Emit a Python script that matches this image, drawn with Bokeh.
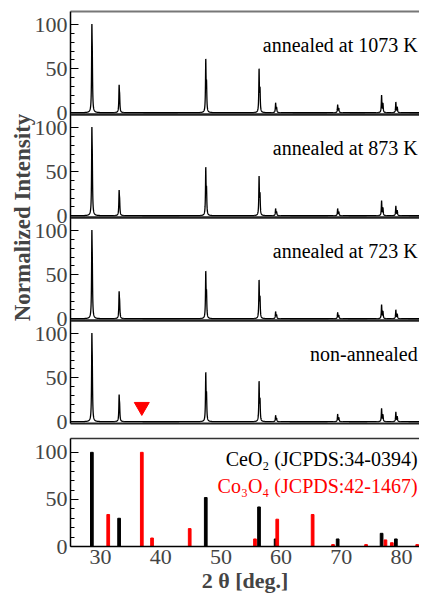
import numpy as np
from bokeh.plotting import figure
from bokeh.models import Label, Span, LinearAxis, FixedTicker, Range1d, ColumnDataSource
from bokeh.layouts import column
from bokeh.embed import file_html
from bokeh.resources import INLINE

# ---------------- data ----------------
# CeO2 reflections seen in the measured patterns (2 theta, deg.)
peak_pos = [28.55, 33.08, 47.48, 56.34, 59.09, 69.40, 76.70, 79.07]
# peak heights (normalized intensity) of each measured pattern
h_1073 = [100, 31.5, 61, 50, 11, 9, 20, 12]
h_873 = [100, 29, 55, 45, 8, 8, 17, 11]
h_723 = [100, 31, 54, 44, 8, 7, 16, 10]
h_non = [100, 30.5, 56, 46, 7, 8.5, 15, 11]
panel_heights = [h_non, h_723, h_873, h_1073]          # bottom -> top
panel_names = ["non-annealed", "annealed at 723 K", "annealed at 873 K", "annealed at 1073 K"]

# reference patterns
ceo2_pos = [28.55, 33.08, 47.48, 56.33, 59.09, 69.40, 76.70, 79.07]
ceo2_int = [100, 30, 52, 42, 8, 8, 14, 8]
co3o4_pos = [31.27, 36.85, 38.55, 44.81, 55.66, 59.36, 65.24, 68.63, 74.12, 77.34, 78.40, 82.62]
co3o4_int = [34, 100, 9, 19, 8, 29, 34, 2, 2, 7, 4, 2]

# Co3O4 (311) marker in the non-annealed pattern
marker_x = [36.85]
marker_y = [17]

ytick_vals = [0, 50, 100]
xtick_vals = [30, 40, 50, 60, 70, 80]

# ---------------- peak-profile rendering ----------------
HWHM = 0.055
KA_RATIO = 1.00251  # Cu K-alpha2 / K-alpha1 wavelength ratio


def lor(x, c):
    return 1.0 / (1.0 + ((x - c) / HWHM) ** 2)


def ka2_pos(c):
    return 2 * np.degrees(np.arcsin(np.sin(np.radians(c / 2)) * KA_RATIO))


def pattern(pos, heights):
    grid = [np.arange(25.0, 83.0, 0.05)]
    for c in pos:
        grid.append(np.arange(c - 0.9, c + 0.9, 0.004))
        grid.append(np.array([c]))
    x = np.unique(np.concatenate(grid))
    y = np.zeros_like(x)
    for c, h in zip(pos, heights):
        c2 = ka2_pos(c)
        amp = h / (1 + 0.5 * lor(c, c2))
        y += amp * (lor(x, c) + 0.5 * lor(x, c2))
    return x, y


FONT = "Liberation Serif, Times New Roman, serif"
S = 117        # vertical span of one stacked panel (in intensity units)
LO = -2
XR = Range1d(25.0, 83.0)
W = 419
TXT_X = 82.7

# ---------------- stacked measured patterns ----------------
p = figure(width=W, height=435, x_range=XR, y_range=Range1d(LO, 4 * S + LO),
           output_backend="svg", toolbar_location=None,
           min_border_left=70, min_border_right=0, min_border_top=11, min_border_bottom=12)
p.outline_line_color = None
p.grid.visible = False

for k, hs in enumerate(panel_heights):
    x, y = pattern(peak_pos, hs)
    src = ColumnDataSource(dict(x=x, y=y + k * S))
    p.line("x", "y", source=src, line_color="black", line_width=1.3)
    p.add_layout(Label(x=TXT_X, y=k * S + 77, text=panel_names[k], text_align="right",
                       text_baseline="middle", text_font=FONT, text_font_size="20px",
                       text_color="black"))
for k in range(3):
    p.add_layout(Span(location=k * S + S + LO, dimension="width",
                      line_color="#222222", line_width=2.5))

msrc = ColumnDataSource(dict(x=marker_x, y=marker_y))
p.scatter("x", "y", source=msrc, marker="inverted_triangle", size=15,
          fill_color="red", line_color="red")

yt = [k * S + v for k in range(4) for v in ytick_vals]
ymt = [k * S + v for k in range(4) for v in range(10, 100, 10) if v != 50]
yax = p.yaxis[0]
yax.ticker = FixedTicker(ticks=yt, minor_ticks=ymt)
yax.major_label_overrides = {k * S + v: str(v) for k in range(4) for v in ytick_vals}
yax.major_tick_in = 8
yax.major_tick_out = 0
yax.minor_tick_in = 4
yax.minor_tick_out = 0
yax.major_label_text_font = FONT
yax.major_label_text_font_size = "22px"
yax.major_label_standoff = 3
yax.axis_line_width = 1.5
yax.axis_label = "Normalized Intensity"
yax.axis_label_text_font = FONT
yax.axis_label_text_font_style = "bold"
yax.axis_label_text_font_size = "23px"
yax.axis_label_standoff = -3

xb = p.below[0]
xb.ticker = FixedTicker(ticks=[])
xb.major_label_text_font_size = "0px"
xb.major_label_standoff = 0
xb.major_tick_in = 0
xb.major_tick_out = 0
xb.minor_tick_in = 0
xb.minor_tick_out = 0
xb.axis_line_width = 2
xb.axis_line_color = "#222222"

top = LinearAxis(ticker=FixedTicker(ticks=[]), major_label_text_font_size="0px",
                 major_label_standoff=0, major_tick_in=0, major_tick_out=0,
                 minor_tick_in=0, minor_tick_out=0, axis_line_width=2,
                 axis_line_color="#777777")
p.add_layout(top, "above")

# ---------------- reference patterns ----------------
q = figure(width=W, height=160, x_range=XR, y_range=Range1d(0, 114.7),
           output_backend="svg", toolbar_location=None,
           min_border_left=70, min_border_right=0, min_border_top=3, min_border_bottom=0)
q.outline_line_color = None
q.grid.visible = False

q.vbar(x=ceo2_pos, top=ceo2_int, bottom=0, width=0.45, color="black")
q.vbar(x=co3o4_pos, top=co3o4_int, bottom=0, width=0.45, color="red")

q.add_layout(Label(x=TXT_X, y=93, text="CeO\u2082 (JCPDS:34-0394)", text_align="right",
                   text_baseline="middle", text_font=FONT, text_font_size="20px",
                   text_color="black"))
q.add_layout(Label(x=TXT_X, y=64, text="Co\u2083O\u2084 (JCPDS:42-1467)", text_align="right",
                   text_baseline="middle", text_font=FONT, text_font_size="20px",
                   text_color="red"))

qy = q.yaxis[0]
qy.ticker = FixedTicker(ticks=ytick_vals, minor_ticks=[10, 20, 30, 40, 60, 70, 80, 90])
qy.major_tick_in = 8
qy.major_tick_out = 0
qy.minor_tick_in = 4
qy.minor_tick_out = 0
qy.major_label_text_font = FONT
qy.major_label_text_font_size = "22px"
qy.major_label_standoff = 3
qy.axis_line_width = 1.5

qx = q.below[0]
qx.ticker = FixedTicker(ticks=xtick_vals)
qx.major_tick_in = 0
qx.major_tick_out = 0
qx.minor_tick_in = 0
qx.minor_tick_out = 0
qx.axis_line_width = 1.5
qx.major_label_text_font = FONT
qx.major_label_text_font_size = "22px"
qx.major_label_standoff = 3
qx.axis_label = "2 \u03b8 [deg.]"
qx.axis_label_text_font = FONT
qx.axis_label_text_font_style = "bold"
qx.axis_label_text_font_size = "22px"
qx.axis_label_standoff = 1

qtop = LinearAxis(ticker=FixedTicker(ticks=[]), major_label_text_font_size="0px",
                  major_label_standoff=0, major_tick_in=0, major_tick_out=0,
                  minor_tick_in=0, minor_tick_out=0, axis_line_width=1.5,
                  axis_line_color="#333333")
q.add_layout(qtop, "above")

layout = column(p, q, spacing=0)
open("out.html", "w").write(file_html(layout, INLINE))
